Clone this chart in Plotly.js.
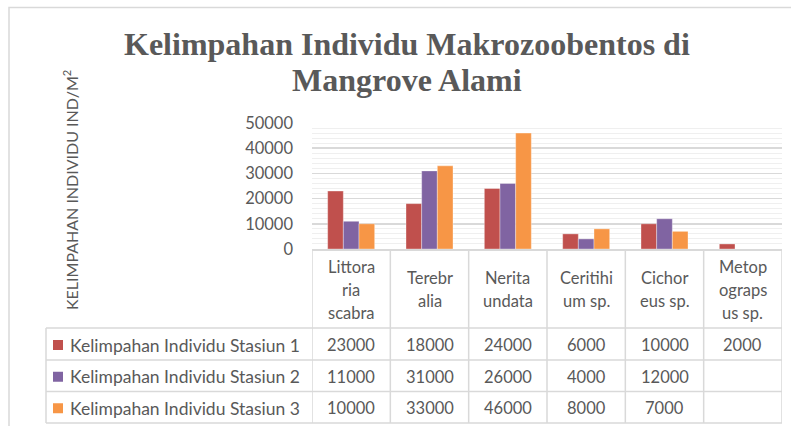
<!DOCTYPE html>
<html>
<head>
<meta charset="utf-8">
<script src="https://cdn.plot.ly/plotly-3.0.1.min.js"></script>
<style>html,body{margin:0;padding:0;background:#fff;}#chart{width:791px;height:426px;}</style>
</head>
<body>
<div id="chart"></div>
<script>
// ---- data ----
const categories = ["Littoraria scabra", "Terebralia", "Nerita undata", "Ceritihium sp.", "Cichoreus sp.", "Metopograpsus sp."];
const categoryLines = [["Littora","ria","scabra"], ["Terebr","alia"], ["Nerita","undata"], ["Ceritihi","um sp."], ["Cichor","eus sp."], ["Metop","ograps","us sp."]];
const seriesNames = ["Kelimpahan Individu Stasiun 1", "Kelimpahan Individu Stasiun 2", "Kelimpahan Individu Stasiun 3"];
const stasiun1 = [23000, 18000, 24000, 6000, 10000, 2000];
const stasiun2 = [11000, 31000, 26000, 4000, 12000, null];
const stasiun3 = [10000, 33000, 46000, 8000, 7000, null];
const yTicks = [0, 10000, 20000, 30000, 40000, 50000];
const titleLines = ["Kelimpahan Individu Makrozoobentos di", "Mangrove Alami"];
const yTitleText = "KELIMPAHAN INDIVIDU IND/M<sup>2</sup>";

// ---- styling ----
const colors = ["#C0504D", "#8064A2", "#F79646"];
const textColor = "#595959";
const gridColor = "#d9d9d9";
const W = 791, H = 426;
const plotL = 312, plotR = 782, plotT = 123, plotB = 249;
const py = p => (plotB - p) / (plotB - plotT);   // pixel y -> paper y
const px = p => (p - plotL) / (plotR - plotL);   // pixel x -> paper x
const font = "Lato, 'Open Sans', sans-serif";

const allSeries = [stasiun1, stasiun2, stasiun3];
const idx = categories.map((c, i) => i);

const traces = allSeries.map((vals, s) => ({
  type: "bar",
  x: idx,
  y: vals,
  name: seriesNames[s],
  marker: {color: colors[s], line: {color: "rgba(255,255,255,0.35)", width: 1}},
  hoverinfo: "none"
}));

const shapes = [];
const annotations = [];

// chart border
shapes.push({type: "rect", xref: "paper", yref: "paper", x0: px(9), x1: px(800), y0: py(440), y1: py(7.5),
  line: {color: gridColor, width: 1.5}, fillcolor: "rgba(0,0,0,0)", layer: "below"});

// table rows (pixel y)
const headerTop = plotB, headerBot = 328;
const rowEdges = [328, 360, 391.5, 423];
const tableLeft = 46;
const tl = {color: gridColor, width: 1.5};

for (let i = 0; i <= categories.length; i++) {
  shapes.push({type: "line", xref: "x", yref: "paper", x0: i - 0.5, x1: i - 0.5, y0: py(headerTop), y1: py(rowEdges[3]), line: tl});
}
shapes.push({type: "line", xref: "paper", yref: "paper", x0: px(tableLeft), x1: px(tableLeft), y0: py(rowEdges[0]), y1: py(rowEdges[3]), line: tl});
rowEdges.forEach(r => {
  shapes.push({type: "line", xref: "paper", yref: "paper", x0: px(tableLeft), x1: 1, y0: py(r), y1: py(r), line: tl});
});

// category header text
const lineH = 23;
categoryLines.forEach((lines, i) => {
  const center = (headerTop + headerBot) / 2 + 1;
  const start = center - (lines.length - 1) * lineH / 2;
  lines.forEach((t, k) => {
    annotations.push({xref: "x", yref: "paper", x: i, y: py(start + k * lineH), text: t, showarrow: false,
      xanchor: "center", yanchor: "middle", font: {family: font, size: 16.5, color: textColor}});
  });
});

// rows: legend key + values
allSeries.forEach((vals, s) => {
  const cy = (rowEdges[s] + rowEdges[s + 1]) / 2 + 1;
  shapes.push({type: "rect", xref: "paper", yref: "paper", x0: px(53), x1: px(63), y0: py(cy - 5), y1: py(cy + 5),
    fillcolor: colors[s], line: {width: 0}});
  annotations.push({xref: "paper", yref: "paper", x: px(68), y: py(cy), text: seriesNames[s], showarrow: false,
    xanchor: "left", yanchor: "middle", font: {family: font, size: 17.5, color: textColor}});
  vals.forEach((v, i) => {
    if (v === null) return;
    annotations.push({xref: "x", yref: "paper", x: i, y: py(cy), text: String(v), showarrow: false,
      xanchor: "center", yanchor: "middle", font: {family: font, size: 16.5, color: textColor}});
  });
});

// y axis title
annotations.push({xref: "paper", yref: "paper", x: px(70), y: py(190), text: yTitleText, textangle: -90, showarrow: false,
  xanchor: "center", yanchor: "middle", font: {family: font, size: 16, color: textColor}});

// chart title (two lines placed individually)
const titleY = [44, 80];
titleLines.forEach((t, k) => {
  annotations.push({xref: "paper", yref: "paper", x: px(407), y: py(titleY[k]), text: t, showarrow: false,
    xanchor: "center", yanchor: "middle", font: {family: "'Liberation Serif', serif", size: 32, color: textColor, weight: "bold"}});
});

const layout = {
  width: W, height: H,
  margin: {l: plotL, r: W - plotR, t: plotT, b: H - plotB, pad: 0},
  paper_bgcolor: "#ffffff", plot_bgcolor: "#ffffff",
  showlegend: false,
  barmode: "group", bargap: 0.4, bargroupgap: 0,
  xaxis: {range: [-0.5, categories.length - 0.5], showticklabels: false, ticks: "", showgrid: false,
    zeroline: false, showline: true, linecolor: gridColor, linewidth: 1.5, fixedrange: true},
  yaxis: {range: [0, 50000], tickvals: yTicks, ticktext: yTicks.map(String), showgrid: true, gridcolor: gridColor, gridwidth: 1.5,
    minor: {dtick: 2000, showgrid: true, gridcolor: "#efefef", gridwidth: 1},
    zeroline: false, showline: false, ticks: "", ticklabelstandoff: 18,
    tickfont: {family: font, size: 16.5, color: textColor}, fixedrange: true},
  shapes: shapes,
  annotations: annotations
};

Plotly.newPlot("chart", traces, layout, {displayModeBar: false, staticPlot: true});
</script>
</body>
</html>
